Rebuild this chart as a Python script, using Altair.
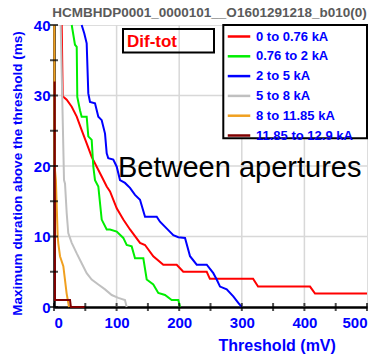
import altair as alt
import pandas as pd

FONT = "Liberation Sans"

series_names = ["0 to 0.76 kA", "0.76 to 2 kA", "2 to 5 kA", "5 to 8 kA", "8 to 11.85 kA", "11.85 to 12.9 kA"]
series_colors = ["#ff0000", "#00ee00", "#0000ff", "#c0c0c0", "#f0a020", "#800000"]

red_x = [12.3, 13.9, 20.3, 28.3, 36.3, 44.2, 52.2, 60.2, 68.2, 76.2, 84.2, 89.5, 100.2, 110.7, 121.4, 137.4, 145.4, 158.6, 174.6, 196, 206.5, 244, 249, 318, 326, 409, 417, 500]
red_y = [40, 29.9, 29.4, 28.4, 27.0, 25.1, 23.2, 21.3, 19.9, 18.5, 17.1, 16.4, 14.0, 12.4, 11.0, 9.1, 8.8, 7.2, 6.0, 6.0, 5.0, 5.0, 4.0, 4.0, 2.9, 2.9, 1.9, 1.9]

green_x = [28.3, 33.5, 36.3, 37.2, 41.5, 44.2, 52.2, 54.8, 60.2, 62.8, 65.5, 70.8, 76.2, 84.2, 89.5, 100.2, 110.7, 116.1, 124.1, 129.4, 142.7, 148.1, 158.6, 166.6, 177.3, 188, 198.6, 201.3]
green_y = [40, 37.2, 36.9, 29.8, 27.9, 27.0, 27.0, 24.2, 23.7, 19.9, 18.0, 17.1, 12.4, 11.0, 11.0, 10.7, 9.8, 8.8, 8.6, 6.9, 6.9, 3.9, 3.2, 2.0, 1.7, 1.0, 1.0, 0]

blue_x = [44.2, 48.4, 52.2, 54.8, 57.5, 65.5, 70.8, 76.2, 81.5, 84.2, 86.7, 94.7, 100.2, 105.4, 113.4, 121.4, 129.4, 137.4, 145.4, 164.1, 169.3, 182.6, 190.6, 198.6, 209.3, 217.3, 228, 244, 254.5, 259.9, 265.2, 275.9, 286.4, 294.4, 299.8]
blue_y = [40, 38.8, 37.4, 30.3, 29.1, 28.9, 27.0, 26.5, 24.6, 21.8, 21.1, 20.9, 19.9, 18.0, 17.6, 16.9, 15.9, 15.2, 12.8, 12.8, 12.1, 10.9, 10.2, 9.9, 9.8, 7.2, 6.0, 6.0, 4.8, 3.9, 2.9, 2.5, 1.5, 0.6, 0]

gray_x = [10.7, 16.0, 17.6, 20.3, 22.8, 28.3, 36.3, 44.2, 52.2, 60.2, 70.8, 81.5, 92.2, 102.7, 113.4, 116.1]
gray_y = [40, 18.0, 17.5, 13.3, 10.5, 9.1, 7.6, 6.2, 4.8, 3.9, 3.2, 2.5, 1.7, 1.3, 1.0, 0]

orange_x = [0.5, 1.0, 3.0, 5.9, 6.9, 9.6, 14.9, 17.6, 20.2, 22.8, 24.0]
orange_y = [40, 20, 18, 10, 9, 7.2, 5.8, 3.8, 1.9, 0.6, 0]

darkred_x = [1.0, 1.5, 25.6, 27.0, 50.0]
darkred_y = [32, 1.0, 1.0, 0, 0]

x_ticks = [0, 50, 100, 150, 200, 250, 300, 350, 400, 450, 500]
y_ticks = [0, 5, 10, 15, 20, 25, 30, 35, 40]
x_labels = [0, 100, 200, 300, 400, 500]
y_labels = [0, 10, 20, 30, 40]
x_grid = [100, 200, 300, 400]
y_grid = [10, 20, 30]

all_x = [red_x, green_x, blue_x, gray_x, orange_x, darkred_x]
all_y = [red_y, green_y, blue_y, gray_y, orange_y, darkred_y]
rows = []
for name, xs, ys in zip(series_names, all_x, all_y):
    for i, (xv, yv) in enumerate(zip(xs, ys)):
        rows.append({"series": name, "mv": xv, "ms": yv, "idx": i})
df = pd.DataFrame(rows)

W, H = 313, 282
xscale = alt.Scale(domain=[0, 500], nice=False, zero=False)
yscale = alt.Scale(domain=[0, 40], nice=False, zero=False)

BLUE = "#0000ff"
GRID = "#d8d8d8"

x_axis = alt.Axis(values=x_labels, title="Threshold (mV)", ticks=False, grid=False,
                  labelFont=FONT, labelFontSize=15, labelFontWeight="bold", labelColor=BLUE,
                  labelPadding=8, domainColor="black", domainWidth=2.5,
                  titleFont=FONT, titleFontSize=16, titleFontWeight="bold", titleColor=BLUE,
                  titleX=222.7, titleY=43, titleAlign="center", titleBaseline="alphabetic")
y_axis = alt.Axis(values=y_labels, title="Maximum duration above the threshold (ms)", ticks=False, grid=False,
                  labelFont=FONT, labelFontSize=15, labelFontWeight="bold", labelColor=BLUE,
                  labelPadding=4, domainColor="black", domainWidth=2.5,
                  titleFont=FONT, titleFontSize=13.5, titleFontWeight="bold", titleColor=BLUE,
                  titleX=-36.5, titleY=148, titleAlign="center", titleBaseline="middle", titleAngle=270)

gx = alt.Chart(pd.DataFrame({"g": x_grid})).mark_rule(stroke=GRID, strokeWidth=1.5).encode(
    x=alt.X("g:Q", scale=xscale, axis=x_axis), y=alt.value(0), y2=alt.value(H))
gy = alt.Chart(pd.DataFrame({"g": y_grid})).mark_rule(stroke=GRID, strokeWidth=1.5).encode(
    y=alt.Y("g:Q", scale=yscale, axis=y_axis), x=alt.value(0), x2=alt.value(W))

one = pd.DataFrame({"a": [0]})
legend_box = alt.Chart(one).mark_rect(fill="white", stroke="black", strokeWidth=2).encode(
    x=alt.value(169.3), x2=alt.value(313), y=alt.value(0), y2=alt.value(113.3))
dif_box = alt.Chart(one).mark_rect(filled=False, stroke="black", strokeWidth=2).encode(
    x=alt.value(69), x2=alt.value(160), y=alt.value(4), y2=alt.value(27.5))

lines = alt.Chart(df).mark_line(strokeWidth=2).encode(
    x=alt.X("mv:Q", scale=xscale),
    y=alt.Y("ms:Q", scale=yscale),
    color=alt.Color("series:N", sort=series_names,
                    scale=alt.Scale(domain=series_names, range=series_colors),
                    legend=alt.Legend(title=None, orient="none", legendX=176, legendY=2.5,
                                      padding=0, rowPadding=3.8, symbolType="M-1.5,0H1.5",
                                      symbolSize=225, symbolStrokeWidth=2.5, labelOffset=8,
                                      labelFont=FONT, labelFontSize=13, labelFontWeight="bold",
                                      labelColor=BLUE, labelLimit=200)),
    order=alt.Order("idx:Q"),
)

xt = alt.Chart(pd.DataFrame({"t": x_ticks, "z": [0] * len(x_ticks)})).mark_tick(
    orient="vertical", size=8, thickness=2, color="black").encode(
    x=alt.X("t:Q", scale=xscale), y=alt.Y("z:Q", scale=yscale))
yt = alt.Chart(pd.DataFrame({"t": y_ticks, "z": [0] * len(y_ticks)})).mark_tick(
    orient="horizontal", size=8, thickness=2, color="black").encode(
    y=alt.Y("t:Q", scale=yscale), x=alt.X("z:Q", scale=xscale))

dif_text = alt.Chart(one).mark_text(text="Dif-tot", font=FONT, fontSize=17, fontWeight="bold",
                                    color="#ff0000", align="left", baseline="alphabetic").encode(
    x=alt.value(73), y=alt.value(21.7))
between = alt.Chart(one).mark_text(text="Between apertures", font=FONT, fontSize=29,
                                   color="black", align="left", baseline="alphabetic").encode(
    x=alt.value(64), y=alt.value(151.7))
title = alt.Chart(one).mark_text(text="HCMBHDP0001_0000101__O1601291218_b010(0)", font=FONT,
                                 fontSize=13.5, fontWeight="bold", color="#5a5a5a",
                                 align="center", baseline="alphabetic").encode(
    x=alt.value(155.5), y=alt.value(-8.3))

chart = alt.layer(gx, gy, legend_box, dif_box, lines, xt, yt, dif_text, between, title).properties(
    width=W, height=H,
    autosize=alt.AutoSizeParams(type="none"),
    padding={"left": 54, "top": 25, "right": 12, "bottom": 48},
).configure_view(stroke="black", strokeWidth=2.5).configure(background="white")

chart.save("out.html", embed_options={"renderer": "svg", "actions": False})
